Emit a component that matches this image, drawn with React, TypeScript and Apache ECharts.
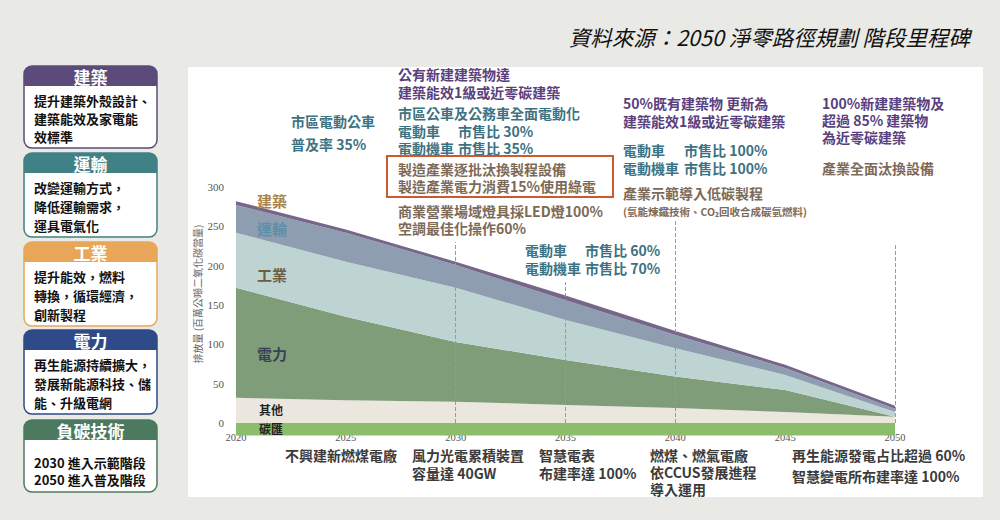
import React, { useEffect, useRef } from "react";
import * as echarts from "echarts";

// ---------- data ----------
const YEARS = ["2020", "2025", "2030", "2035", "2040", "2045", "2050"];
const OTHER = [32, 29, 27, 23, 19, 14, 8];
const POWER = [140, 106, 76, 57, 40, 28, 0];
const INDUSTRY = [70, 70, 69, 51, 36, 19, 6];
const TRANSPORT = [35, 37, 29, 25, 17, 9, 4];
const BUILDING = [5, 4, 4, 6, 5, 4, 4];
const SINK = [-16, -16, -16, -16, -16, -16, -16];
const SERIES_NAMES = ["其他", "電力", "工業", "運輸", "建築", "碳匯"];
const MILESTONE_YEARS = ["2025", "2030", "2035", "2040", "2050"];
const MILESTONE_TOPS = [312, 230, 179, 258, 229];

const CARD_TITLES = ["建築", "運輸", "工業", "電力", "負碳技術"];
const CARD_LINES = [
  ["提升建築外殼設計、", "建築能效及家電能", "效標準"],
  ["改變運輸方式，", "降低運輸需求，", "運具電氣化"],
  ["提升能效，燃料", "轉換，循環經濟，", "創新製程"],
  ["再生能源持續擴大，", "發展新能源科技、儲", "能、升級電網"],
  ["2030 進入示範階段", "2050 進入普及階段"],
];
const TITLE = "資料來源：2050 淨零路徑規劃 階段里程碑";
const Y_NAME = "排放量 (百萬公噸二氧化碳當量)";

// ---------- styles ----------
const FONT = '"Noto Sans CJK TC", "Noto Sans", sans-serif';
const SERIF = '"Liberation Serif", "DejaVu Serif", serif';
const COLORS = ["#ebe7de", "#809d7a", "#bdd4d3", "#8e9eb0", "#76678a", "#8cbd6a"];
const CARD_COLORS = ["#5c4b7a", "#3f8185", "#e8a658", "#2f4a88", "#4c7a60"];
const PURPLE = "#5a3f7e";
const TEAL = "#3d7282";
const BROWN = "#7c6a58";
const DARK = "#3b3b3b";

const txt = (
  text: string,
  x: number,
  y: number,
  fill: string,
  size = 14,
  weight: string = "bold",
  extra: any = {}
) => ({
  type: "text",
  x,
  y,
  z: 100,
  silent: true,
  style: {
    text,
    fill,
    fontSize: size,
    fontWeight: weight,
    fontFamily: FONT,
    textAlign: "left",
    textVerticalAlign: "middle",
    ...extra,
  },
});

function buildGraphics() {
  const g: any[] = [];
  g.push({ type: "rect", z: -10, silent: true, shape: { x: 188, y: 67, width: 795, height: 430 }, style: { fill: "#ffffff" } });
  g.push(txt(TITLE, 970, 36, "#111111", 21.5, "normal", { textAlign: "right", fontStyle: "italic" }));

  const cardTops = [66, 153, 242, 330, 420];
  const cardBottoms = [148, 237, 326, 414, 492];
  const lineYs = [
    [100, 118, 136],
    [187, 206, 225],
    [276, 295, 314],
    [364, 383, 402],
    [462, 479],
  ];
  CARD_TITLES.forEach((t, i) => {
    const top = cardTops[i];
    const c = CARD_COLORS[i];
    g.push({ type: "rect", z: 1, silent: true, shape: { x: 24, y: top, width: 133, height: cardBottoms[i] - top, r: 8 }, style: { fill: "#fff", stroke: c, lineWidth: 1.5 } });
    g.push({ type: "rect", z: 2, silent: true, shape: { x: 24, y: top, width: 133, height: 20, r: [8, 8, 0, 0] }, style: { fill: c } });
    g.push(txt(t, 90.5, top + 10.5, "#ffffff", 17, "bold", { textAlign: "center" }));
    CARD_LINES[i].forEach((line, j) => {
      g.push(txt(line, 34, lineYs[i][j], "#111111", 13, "bold"));
    });
  });

  g.push({
    type: "text", x: 197, y: 294, rotation: Math.PI / 2, z: 100, silent: true,
    style: { text: Y_NAME, fill: "#666", fontSize: 10, fontFamily: FONT, textAlign: "center", textVerticalAlign: "middle" },
  });

  g.push(txt("建築", 257, 200, "#a8844c", 15));
  g.push(txt("運輸", 257, 228, "#5d8fa8", 15));
  g.push(txt("工業", 257, 274, "#6e5d3e", 15));
  g.push(txt("電力", 257, 353, "#374255", 15));
  g.push(txt("其他", 259, 409, "#222222", 12));
  g.push(txt("碳匯", 259, 428, "#222222", 12));

  g.push(txt("市區電動公車", 291, 121, TEAL));
  g.push(txt("普及率 35%", 291, 144, TEAL));

  g.push(txt("公有新建建築物達", 398, 74, PURPLE));
  g.push(txt("建築能效1級或近零碳建築", 398, 92, PURPLE));
  g.push(txt("市區公車及公務車全面電動化", 398, 113, TEAL));
  g.push(txt("電動車", 398, 131, TEAL));
  g.push(txt("市售比 30%", 458, 131, TEAL));
  g.push(txt("電動機車", 398, 148, TEAL));
  g.push(txt("市售比 35%", 458, 148, TEAL));

  g.push({ type: "rect", z: 100, silent: true, shape: { x: 387, y: 156, width: 226, height: 41 }, style: { fill: "none", stroke: "#cc5a2e", lineWidth: 2 } });
  g.push(txt("製造產業逐批汰換製程設備", 398, 169, BROWN));
  g.push(txt("製造產業電力消費15%使用綠電", 398, 186, BROWN));
  g.push(txt("商業營業場域燈具採LED燈100%", 398, 211, BROWN));
  g.push(txt("空調最佳化操作60%", 398, 228, BROWN));

  g.push(txt("電動車", 525, 250, TEAL));
  g.push(txt("市售比 60%", 585, 250, TEAL));
  g.push(txt("電動機車", 525, 268, TEAL));
  g.push(txt("市售比 70%", 585, 268, TEAL));

  g.push(txt("50%既有建築物 更新為", 623, 103, PURPLE));
  g.push(txt("建築能效1級或近零碳建築", 623, 121, PURPLE));
  g.push(txt("電動車", 623, 150, TEAL));
  g.push(txt("市售比 100%", 684, 150, TEAL));
  g.push(txt("電動機車", 623, 168, TEAL));
  g.push(txt("市售比 100%", 684, 168, TEAL));
  g.push(txt("產業示範導入低碳製程", 623, 193, BROWN));
  g.push(txt("(氫能煉鐵技術、CO₂回收合成碳氫燃料)", 623, 211, BROWN, 10.5));

  g.push(txt("100%新建建築物及", 822, 103, PURPLE));
  g.push(txt("超過 85% 建築物", 822, 120, PURPLE));
  g.push(txt("為近零碳建築", 822, 137, PURPLE));
  g.push(txt("產業全面汰換設備", 822, 168, BROWN));

  g.push(txt("不興建新燃煤電廠", 285, 455, DARK));
  g.push(txt("風力光電累積裝置", 412, 455, DARK));
  g.push(txt("容量達 40GW", 412, 473, DARK));
  g.push(txt("智慧電表", 539, 455, DARK));
  g.push(txt("布建率達 100%", 539, 473, DARK));
  g.push(txt("燃煤、燃氣電廠", 650, 455, DARK));
  g.push(txt("依CCUS發展進程", 650, 472, DARK));
  g.push(txt("導入運用", 650, 489, DARK));
  g.push(txt("再生能源發電占比超過 60%", 792, 455, DARK));
  g.push(txt("智慧變電所布建率達 100%", 792, 476, DARK));
  return g;
}

function buildOption(): any {
  const layers = [OTHER, POWER, INDUSTRY, TRANSPORT, BUILDING, SINK];
  const series: any[] = layers.map((vals, i) => ({
    name: SERIES_NAMES[i],
    type: "line",
    stack: i === 5 ? "sink" : "total",
    data: vals,
    symbol: "none",
    smooth: false,
    clip: false,
    lineStyle: { width: 0 },
    areaStyle: { color: COLORS[i], opacity: 1 },
    itemStyle: { color: COLORS[i] },
    silent: true,
    z: 2,
  }));
  series[4].markLine = {
    silent: true,
    symbol: "none",
    label: { show: false },
    lineStyle: { type: "dashed", color: "#9a9a9a", width: 1 },
    data: MILESTONE_YEARS.map((y, i) => [{ coord: [y, 0] }, { coord: [y, MILESTONE_TOPS[i]] }]),
  };
  return {
    animation: false,
    backgroundColor: "#e9e9e5",
    grid: { left: 236, right: 105, top: 187, bottom: 97, containLabel: false },
    xAxis: {
      type: "category",
      data: YEARS,
      boundaryGap: false,
      axisLine: { show: false },
      axisTick: { show: false },
      splitLine: { show: false },
      axisLabel: { color: "#555", fontFamily: SERIF, fontSize: 10.5, margin: 9, interval: 0 },
    },
    yAxis: {
      type: "value",
      min: 0,
      max: 300,
      interval: 50,
      axisLine: { show: false },
      axisTick: { show: false },
      splitLine: { show: false },
      axisLabel: { color: "#555", fontFamily: SERIF, fontSize: 11, margin: 12 },
    },
    series,
    graphic: { elements: buildGraphics() },
  };
}

export default function App() {
  const ref = useRef<HTMLDivElement>(null);
  useEffect(() => {
    document.body.style.margin = "0";
    const chart = echarts.init(ref.current!, null, { renderer: "svg" });
    chart.setOption(buildOption());
    return () => chart.dispose();
  }, []);
  return <div ref={ref} style={{ width: 1000, height: 520 }} />;
}
